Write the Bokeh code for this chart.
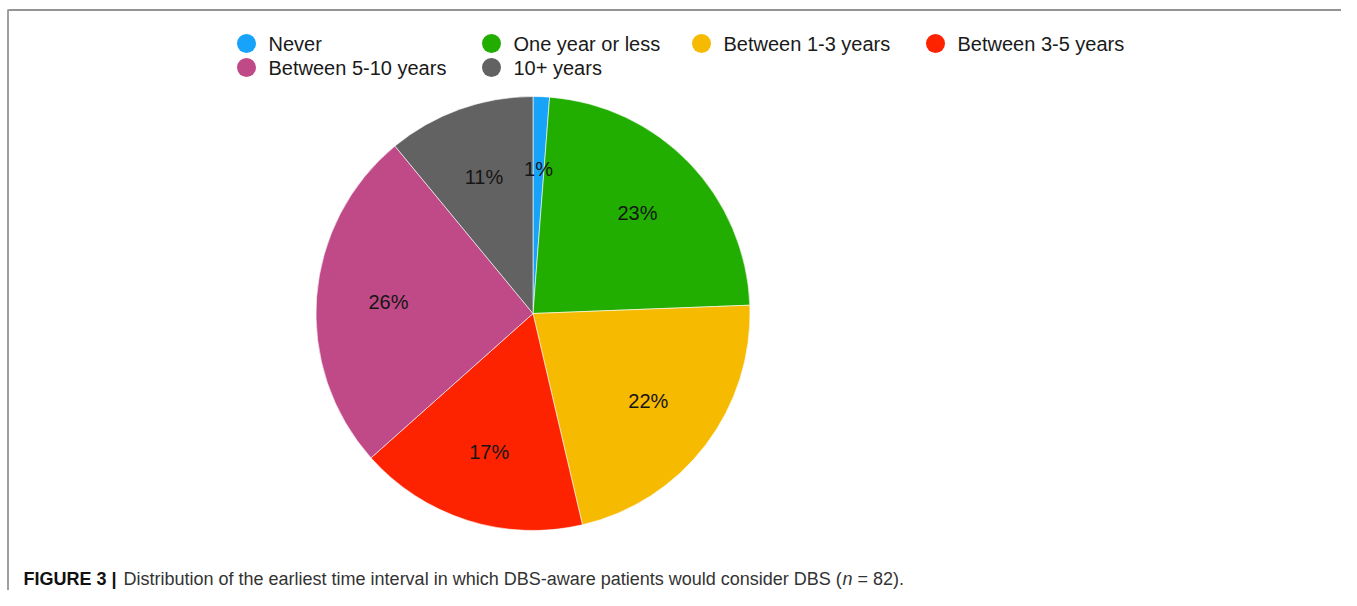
import math
from bokeh.plotting import figure
from bokeh.models import Range1d, ColumnDataSource
from bokeh.core.properties import value
from bokeh.embed import file_html
from bokeh.resources import INLINE

# ---- data ----
categories = ["Never", "One year or less", "Between 1-3 years",
              "Between 3-5 years", "Between 5-10 years", "10+ years"]
counts = [1, 19, 18, 14, 21, 9]
pct_labels = ["1%", "23%", "22%", "17%", "26%", "11%"]
colors = ["#17A3FA", "#22AE00", "#F6BA00", "#FE2300", "#BF4A87", "#626262"]

caption_bold = "FIGURE 3 |"
caption_text = "Distribution of the earliest time interval in which DBS-aware patients would consider DBS ("
caption_italic = "n"
caption_end = "= 82)."

# ---- layout (pixel coordinates, y negated) ----
W, H = 1341, 590
cx, cy, R = 532.5, -313.0, 217.0
label_r = 145.0

p = figure(width=W, height=H, output_backend="svg", toolbar_location=None,
           x_range=Range1d(0, W), y_range=Range1d(-H, 0),
           min_border=0, border_fill_color="white", background_fill_color="white")
p.axis.visible = False
p.grid.visible = False
p.outline_line_color = None

total = sum(counts)
starts, ends, lx, ly = [], [], [], []
cum = 0
for c in counts:
    a0 = math.pi / 2 - 2 * math.pi * cum / total
    cum += c
    a1 = math.pi / 2 - 2 * math.pi * cum / total
    starts.append(a0)
    ends.append(a1)
    mid = (a0 + a1) / 2
    lx.append(cx + label_r * math.cos(mid))
    ly.append(cy + label_r * math.sin(mid))

src = ColumnDataSource(dict(start=starts, end=ends, color=colors, cat=categories,
                            lx=lx, ly=ly, lab=pct_labels))
p.wedge(x=cx, y=cy, radius=R, start_angle="start", end_angle="end",
        direction="clock", fill_color="color", line_color="white",
        line_width=0.6, source=src)
p.text(x="lx", y="ly", text="lab", source=src, text_align="center",
       text_baseline="middle", text_font=value("Liberation Sans"),
       text_font_size="20px", text_color="#151515")

# ---- legend (manual, circles + labels) ----
leg_x = [246, 491, 701, 935, 246, 491]
leg_y = [-43, -43, -43, -43, -67, -67]
leg = ColumnDataSource(dict(x=leg_x, y=leg_y, tx=[v + 22 for v in leg_x],
                            color=colors, cat=categories))
p.scatter(x="x", y="y", size=19, marker="circle", fill_color="color",
          line_color=None, source=leg)
p.text(x="tx", y="y", text="cat", source=leg, text_align="left",
       text_baseline="middle", text_font=value("Liberation Sans"),
       text_font_size="20px", text_color="#1a1a1a")

# ---- frame ----
p.segment(x0=[8, 7.5], y0=[-9.5, -9], x1=[W, 7.5], y1=[-9.5, -H],
          line_color=["#2a2a2a", "#808080"], line_width=[1.2, 1.5])

# ---- caption ----
cap_y = -578
p.text(x=[23], y=[cap_y], text=[caption_bold], text_baseline="middle",
       text_font=value("Liberation Sans"), text_font_style="bold",
       text_font_size="18px", text_color="#111111")
p.text(x=[123], y=[cap_y], text=[caption_text], text_baseline="middle",
       text_font=value("Liberation Sans"), text_font_size="18px",
       text_color="#333333")
p.text(x=[842], y=[cap_y], text=[caption_italic], text_baseline="middle",
       text_font=value("Liberation Sans"), text_font_style="italic",
       text_font_size="18px", text_color="#333333")
p.text(x=[857], y=[cap_y], text=[caption_end], text_baseline="middle",
       text_font=value("Liberation Sans"), text_font_size="18px",
       text_color="#333333")

open("out.html", "w").write(file_html(p, INLINE))
